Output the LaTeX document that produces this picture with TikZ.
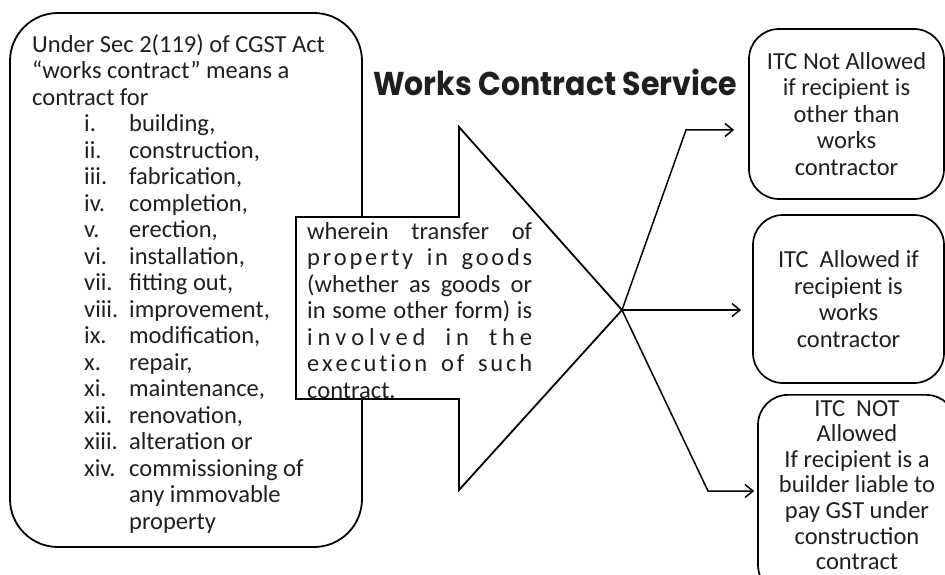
\documentclass[tikz,border=0pt]{standalone}
\usepackage{fontspec}
\setmainfont{Carlito}
\newfontfamily\titlefont{Poppins}
\usetikzlibrary{arrows.meta}
\newcommand\wcitem[2]{\hspace*{52pt}\makebox[45pt][l]{#1}#2}
\newcommand\wcl{\hspace{0pt plus 1fil}}
\newcommand\wcw{\hspace{5.5pt plus 3fil}}
\begin{document}
\begin{tikzpicture}[x=1pt,y=-1pt,
  every node/.style={inner sep=0pt, font=\fontsize{24.5}{26.5}\selectfont, text=black!88},
  bigbox/.style={draw, line width=1.8pt, rounded corners=48pt},
  rbox/.style={draw, line width=1.7pt, rounded corners=30pt, align=center},
  conn/.style={line width=1.5pt, -{Straight Barb[length=8pt,width=13pt,line width=1.5pt]}},
  blockarrow/.style={draw, line width=1.8pt, fill=white, line join=miter}]
\clip (0,0) rectangle (945,575);
\fill[white] (0,0) rectangle (945,575);
% left box
\node[bigbox, minimum width=352pt, minimum height=534pt] (lbox) at (186,280) {};
\node[anchor=north west, align=left] (ltext) at (32,34) {Under Sec 2(119) of CGST Act\\
“works contract” means a\\
contract for\\
\wcitem{i.}{building,}\\
\wcitem{ii.}{construction,}\\
\wcitem{iii.}{fabrication,}\\
\wcitem{iv.}{completion,}\\
\wcitem{v.}{erection,}\\
\wcitem{vi.}{installation,}\\
\wcitem{vii.}{fitting out,}\\
\wcitem{viii.}{improvement,}\\
\wcitem{ix.}{modification,}\\
\wcitem{x.}{repair,}\\
\wcitem{xi.}{maintenance,}\\
\wcitem{xii.}{renovation,}\\
\wcitem{xiii.}{alteration or}\\
\wcitem{xiv.}{commissioning of}\\
\wcitem{}{any immovable}\\
\wcitem{}{property}};
% block arrow
\coordinate (tip) at (622,310);
\draw[blockarrow] (296,217) -- (459,217) -- (459,127) -- (tip) -- (459,490) -- (459,399) -- (296,399) -- cycle;
\node[anchor=north west, align=left] (atext) at (307,222) {\makebox[225pt][s]{wherein transfer of}\\
\makebox[225pt][s]{p\wcl r\wcl o\wcl p\wcl e\wcl r\wcl t\wcl y\wcw i\wcl n\wcw g\wcl o\wcl o\wcl d\wcl s}\\
\makebox[225pt][s]{(whether as goods or}\\
\makebox[225pt][s]{in some other form) is}\\
\makebox[225pt][s]{i\wcl n\wcl v\wcl o\wcl l\wcl v\wcl e\wcl d\wcw i\wcl n\wcw t\wcl h\wcl e}\\
\makebox[225pt][s]{e\wcl x\wcl e\wcl c\wcl u\wcl t\wcl i\wcl o\wcl n\wcw o\wcl f\wcw s\wcl u\wcl c\wcl h}\\
contract.};
% title
\node[anchor=base, font=\titlefont\bfseries\fontsize{33}{33}\selectfont] (title) at (555,96) {\scalebox{0.91}[1]{Works Contract Service}};
% right boxes
\node[rbox, minimum width=195pt, minimum height=170pt] (b1) at (846.5,114) {ITC Not Allowed\\if recipient is\\other than\\works\\contractor};
\node[rbox, minimum width=191pt, minimum height=168pt] (b2) at (848.5,299) {ITC~ Allowed if\\recipient is\\works\\contractor};
\node[rbox, minimum width=198pt, minimum height=200pt, anchor=north] (b3) at (857,394) {};
\node[anchor=north, align=center, font=\fontsize{24.5}{25.6}\selectfont] (t3) at (857,400) {ITC~ NOT\\Allowed\\If recipient is a\\builder liable to\\pay GST under\\construction\\contract};
% connectors
\coordinate (k1) at (686,130);
\coordinate (k3) at (708,491);
\draw[conn, shorten >=14pt] (tip) -- (k1) -- (b1.west |- k1);
\draw[conn, shorten >=11pt] (tip) -- (b2.west |- tip);
\draw[conn, shorten >=3pt] (tip) -- (k3) -- (b3.west |- k3);
\end{tikzpicture}
\end{document}
